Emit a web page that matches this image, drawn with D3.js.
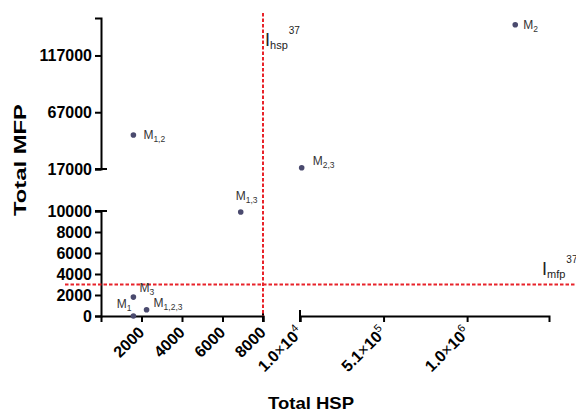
<!DOCTYPE html>
<html lang="en">
<head>
<meta charset="utf-8">
<script src="https://d3js.org/d3.v7.min.js"></script>
<title>Total HSP vs Total MFP</title>
<style>
	body { margin:0; background:#fff; }
	svg { font-family:"Liberation Sans", Arial, sans-serif; }
	.axis path, .axis line { stroke:#000; stroke-width:2px; }
	.axis text { font-size:16px; font-weight:bold; fill:#000; }
	.lbl { font-size:12px; fill:#333; }
	.thr { stroke:#e8232a; stroke-width:2px; stroke-dasharray:3.5,2; fill:none; }
</style>
</head>
<body>
<script>
// points: name, subscript, total HSP, total MFP
var names  = ["M", "M", "M", "M", "M", "M", "M"];
var subs   = ["1", "2", "3", "1,2", "1,3", "2,3", "1,2,3"];
var hsp    = [1600, 1298000, 1600, 1600, 6900, 20000, 2250];
var mfp    = [0, 144000, 1800, 47000, 9900, 18150, 600];

var xLoTicks = [2000, 4000, 6000, 8000];
var xHiTicks = [10000, 510000, 1010000];
var xHiLabels = [["1.0", "4"], ["5.1", "5"], ["1.0", "6"]];
var yLoTicks = [0, 2000, 4000, 6000, 8000, 10000];
var yHiTicks = [17000, 67000, 117000];

var ihsp = 8000, imfp = 3000;

var width = 576, height = 415;

var svg = d3.select("body").append("svg")
	.attr("width", width).attr("height", height);

// broken axes: two linear pieces each
var xLo = d3.scaleLinear().domain([0, 8000]).range([101, 263]);
var xHi = d3.scaleLinear().domain([10000, 1500000]).range([300, 549]);
var yLo = d3.scaleLinear().domain([0, 10000]).range([316, 211]);
var yHi = d3.scaleLinear().domain([17000, 150000]).range([169, 18]);

function X(v){ return v <= 8000 ? xLo(v) : xHi(v); }
function Y(v){ return v <= 10000 ? yLo(v) : yHi(v); }

// y axes
svg.append("g").attr("class","axis").attr("transform","translate(101,0)")
	.call(d3.axisLeft(yLo).tickValues(yLoTicks).tickSizeOuter(0).tickSize(6).tickFormat(d3.format("d")));
svg.append("g").attr("class","axis").attr("transform","translate(101,0)")
	.call(d3.axisLeft(yHi).tickValues(yHiTicks).tickSizeOuter(0).tickSize(6).tickFormat(d3.format("d")));

// x axes
var gxLo = svg.append("g").attr("class","axis xax").attr("transform","translate(0,316)")
	.call(d3.axisBottom(xLo).tickValues(xLoTicks).tickSizeOuter(0).tickSize(6).tickFormat(d3.format("d")));
var gxHi = svg.append("g").attr("class","axis xax").attr("transform","translate(0,316)")
	.call(d3.axisBottom(xHi).tickValues(xHiTicks).tickSizeOuter(0).tickSize(6));

// rotated x labels
svg.selectAll(".xax .tick text")
	.attr("text-anchor","end")
	.attr("x", -10).attr("y", 9).attr("dy","0.35em")
	.attr("transform","rotate(-45)");

gxHi.selectAll(".tick text").each(function(d, i){
	var t = d3.select(this).text(null);
	t.append("tspan").text(xHiLabels[i][0]);
	t.append("tspan").attr("font-weight","normal").text("\u00d7");
	t.append("tspan").text("10");
	t.append("tspan").attr("font-size","11px").attr("font-weight","normal").attr("dy","-0.6em").text(xHiLabels[i][1]);
});

// break caps straddling the axis
var caps = svg.append("g").attr("stroke","#000").attr("stroke-width",2);
[yLo(10000), yHi(17000)].forEach(function(y){
	caps.append("line").attr("x1",95).attr("x2",107).attr("y1",y).attr("y2",y);
});
[xLo(8000), xHi(10000)].forEach(function(x){
	caps.append("line").attr("x1",x).attr("x2",x).attr("y1",310).attr("y2",322);
});

// threshold lines
svg.append("line").attr("class","thr")
	.attr("x1", xLo(ihsp)).attr("x2", xLo(ihsp)).attr("y1", 13).attr("y2", 316);
svg.append("line").attr("class","thr")
	.attr("x1", 65).attr("x2", width).attr("y1", yLo(imfp)).attr("y2", yLo(imfp));

function thrLabel(x, y, sub){
	var t = svg.append("text").attr("x", x).attr("y", y).attr("fill","#222");
	t.append("tspan").attr("font-size","18px").text("I");
	t.append("tspan").attr("font-size","11px").attr("dy", 3).text(sub);
	t.append("tspan").attr("font-size","10px").attr("dx", 1).attr("dy", -15).text("37");
}
thrLabel(265, 46, "hsp");
thrLabel(542, 275, "mfp");

// points
svg.selectAll(".pt").data(hsp).enter().append("circle")
	.attr("class","pt")
	.attr("cx", function(d){ return X(d); })
	.attr("cy", function(d, i){ return Y(mfp[i]); })
	.attr("r", 2.8)
	.attr("fill","#4a4a6e");

// label offsets [dx, dy, anchor]
var offs = [[-2,-8,"end"], [8,4,"start"], [6,-5,"start"], [10,4,"start"], [-5,-12,"start"], [11,-3,"start"], [7,-3,"start"]];
names.forEach(function(n, i){
	var o = offs[i];
	var t = svg.append("text").attr("class","lbl")
		.attr("x", X(hsp[i]) + o[0]).attr("y", Y(mfp[i]) + o[1])
		.attr("text-anchor", o[2]);
	t.append("tspan").text(n);
	t.append("tspan").attr("font-size","8.5px").attr("dy", 3).text(subs[i]);
});

// axis titles
svg.append("text").attr("transform","translate(26,160) rotate(-90)")
	.attr("text-anchor","middle").attr("font-size","17px").attr("font-weight","bold")
	.attr("textLength", 112).attr("lengthAdjust","spacingAndGlyphs")
	.text("Total MFP");
svg.append("text").attr("x", 311).attr("y", 409)
	.attr("text-anchor","middle").attr("font-size","17px").attr("font-weight","bold")
	.attr("textLength", 86).attr("lengthAdjust","spacingAndGlyphs")
	.text("Total HSP");
</script>
</body>
</html>
